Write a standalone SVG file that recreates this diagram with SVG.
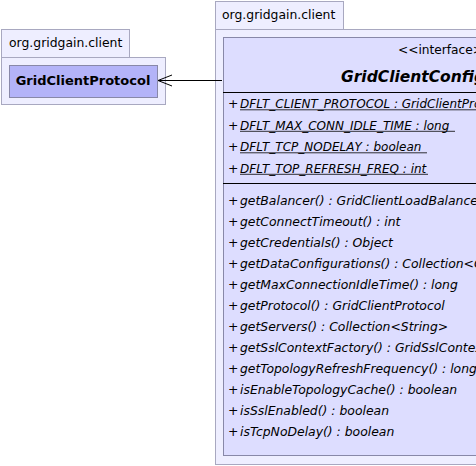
<svg xmlns="http://www.w3.org/2000/svg" width="476" height="466" viewBox="0 0 476 466">
<style>
.pkg{fill:#eeeeff;stroke:#a8a8c0;stroke-width:1}
.cls{stroke:#8888a8;stroke-width:1}
.t{font-family:"DejaVu Sans",sans-serif;font-size:12.4px;fill:#000}
.i{font-style:oblique}
.a{font-size:12px}
.sep{stroke:#000;stroke-width:1}
.ul{stroke:#000;stroke-width:0.8}
</style>
<rect width="476" height="466" fill="#ffffff"/>
<g id="pkg-left">
<rect class="pkg" x="1.5" y="29.5" width="128" height="28"/>
<rect class="pkg" x="1.5" y="57.5" width="164" height="47"/>
<text class="t" x="9" y="47">org.gridgain.client</text>
</g>
<g id="GridClientProtocol">
<rect class="cls" x="9.5" y="65.5" width="148" height="32" fill="#b3b3f8"/>
<text class="t" x="83" y="85" text-anchor="middle" style="font-weight:bold;font-size:13px">GridClientProtocol</text>
</g>
<g id="pkg-right">
<rect class="pkg" x="215.5" y="1.5" width="128" height="28"/>
<rect class="pkg" x="215.5" y="29.5" width="300" height="435"/>
<text class="t" x="222" y="19">org.gridgain.client</text>
</g>
<g id="GridClientConfiguration">
<rect class="cls" x="223.5" y="37.5" width="300" height="418" fill="#ddddff"/>
<text class="t" x="398" y="54" style="font-size:12.2px">&lt;&lt;interface&gt;&gt;</text>
<text class="t" x="341" y="82" style="font-weight:bold;font-style:oblique;font-size:15.5px">GridClientConfiguration</text>
<line class="sep" x1="223" y1="92.5" x2="476" y2="92.5"/>
<text class="t" x="228" y="108">+</text>
<text class="t i a" x="240" y="108">DFLT_CLIENT_PROTOCOL : GridClientProtocol</text>
<line class="ul" x1="240" y1="109.8" x2="520" y2="109.8"/>
<text class="t" x="228" y="129.5">+</text>
<text class="t i a" x="240" y="129.5">DFLT_MAX_CONN_IDLE_TIME : long</text>
<line class="ul" x1="240" y1="131.3" x2="455" y2="131.3"/>
<text class="t" x="228" y="151">+</text>
<text class="t i a" x="240" y="151">DFLT_TCP_NODELAY : boolean</text>
<line class="ul" x1="240" y1="152.8" x2="427" y2="152.8"/>
<text class="t" x="228" y="172.5">+</text>
<text class="t i a" x="240" y="172.5">DFLT_TOP_REFRESH_FREQ : int</text>
<line class="ul" x1="240" y1="174.3" x2="428" y2="174.3"/>
<line class="sep" x1="223" y1="183.5" x2="476" y2="183.5"/>
<text class="t" x="228" y="205">+</text><text class="t i" x="240" y="205">getBalancer() : GridClientLoadBalancer</text>
<text class="t" x="228" y="226">+</text><text class="t i" x="240" y="226">getConnectTimeout() : int</text>
<text class="t" x="228" y="247">+</text><text class="t i" x="240" y="247">getCredentials() : Object</text>
<text class="t" x="228" y="268">+</text><text class="t i" x="240" y="268">getDataConfigurations() : Collection&lt;GridClientDataConfiguration&gt;</text>
<text class="t" x="228" y="289">+</text><text class="t i" x="240" y="289">getMaxConnectionIdleTime() : long</text>
<text class="t" x="228" y="310">+</text><text class="t i" x="240" y="310">getProtocol() : GridClientProtocol</text>
<text class="t" x="228" y="331">+</text><text class="t i" x="240" y="331">getServers() : Collection&lt;String&gt;</text>
<text class="t" x="228" y="352">+</text><text class="t i" x="240" y="352">getSslContextFactory() : GridSslContextFactory</text>
<text class="t" x="228" y="373">+</text><text class="t i" x="240" y="373">getTopologyRefreshFrequency() : long</text>
<text class="t" x="228" y="394">+</text><text class="t i" x="240" y="394">isEnableTopologyCache() : boolean</text>
<text class="t" x="228" y="415">+</text><text class="t i" x="240" y="415">isSslEnabled() : boolean</text>
<text class="t" x="228" y="436">+</text><text class="t i" x="240" y="436">isTcpNoDelay() : boolean</text>
</g>
<g id="connectors">
<line x1="222" y1="80.5" x2="158" y2="80.5" stroke="#000" stroke-width="1"/>
<polyline points="172,75 158,80.5 172,86" fill="none" stroke="#000" stroke-width="1"/>
</g>
</svg>
